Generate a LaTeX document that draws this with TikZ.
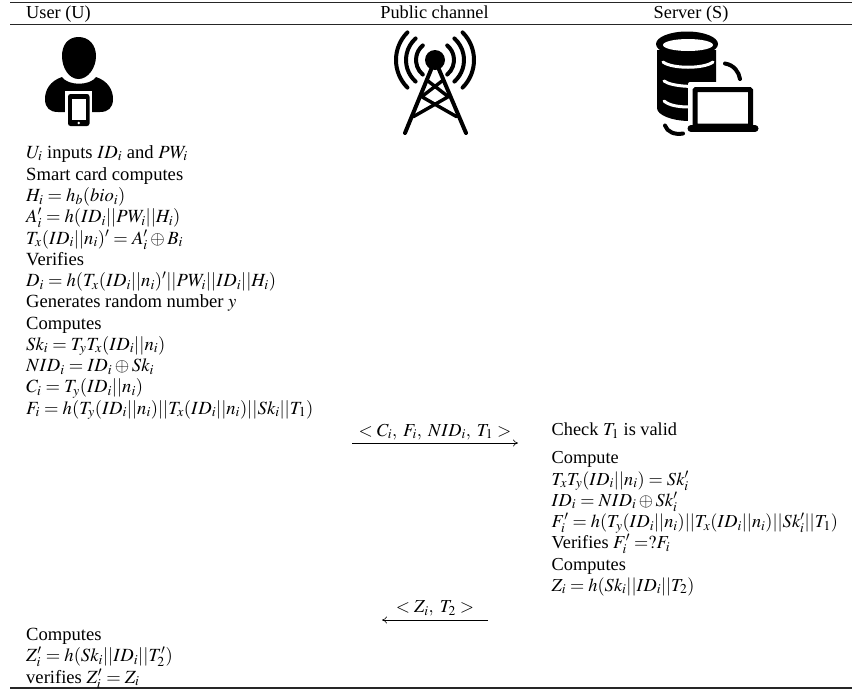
\documentclass[tikz,border=0pt]{standalone}
\usepackage{fontspec}
\usepackage{mathptmx}
\setmainfont{Liberation Serif}
\usetikzlibrary{arrows.meta}
\tikzset{
  txt/.style={anchor=base west,inner sep=0pt,font=\fontsize{18.6}{20}\selectfont},
  srv/.style={anchor=base west,inner sep=0pt,font=\fontsize{18.3}{20}\selectfont},
  ctr/.style={anchor=base,inner sep=0pt,font=\fontsize{18.3}{20}\selectfont},
  rulethick/.style={line width=1.3pt,draw=black!85},
  msg/.style={line width=0.6pt,-{To[length=5pt,width=7pt]}},
  ico/.style={line width=4pt,line cap=round,black},
  stripe/.style={white,line width=3pt,line cap=round}
}
\begin{document}
\begin{tikzpicture}[x=1pt,y=-1pt]
\useasboundingbox (0,0) rectangle (852,691);
\coordinate (t1) at (10,2.5); \coordinate (t2) at (852,2.5);
\coordinate (h1) at (10,24.5); \coordinate (h2) at (852,24.5);
\coordinate (b1) at (10,688); \coordinate (b2) at (852,688);
\draw[rulethick] (t1)--(t2); \draw[rulethick] (h1)--(h2); \draw[rulethick] (b1)--(b2);
\node[srv] (hu) at (26,18) {User (U)};
\node[ctr] (hp) at (434.5,18) {Public channel};
\node[srv] (hs) at (653.5,18) {Server (S)};
% user icon
\fill (78.5,37) .. controls (89,37) and (96,45) .. (96,56) .. controls (96,68) and (88,79) .. (78.5,79) .. controls (69,79) and (62,68) .. (62,56) .. controls (62,45) and (68,37) .. (78.5,37) -- cycle;
\fill (62,77) .. controls (50,81) and (45,90) .. (45,99) .. controls (45,108) and (50,112) .. (58,112) -- (100,112) .. controls (108,112) and (113,108) .. (113,99) .. controls (113,90) and (108,81) .. (96,77) .. controls (90,86) and (68,86) .. (62,77) -- cycle;
\fill[white] (65,91) rectangle (92,128);
\fill[rounded corners=2.5pt] (68,94) rectangle (89.5,126);
\fill[white] (72,99) rectangle (86,120);
\fill[white] (78.8,123) circle (1.4);
% tower
\begin{scope}[ico]
 \coordinate (tc) at (435,60);
 \fill (tc) circle (10);
 \draw (tc)+(130:19) arc (130:230:19);
 \draw (tc)+(132:29) arc (132:228:29);
 \draw (tc)+(135:39) arc (135:225:39);
 \draw (tc)+(50:19) arc (50:-50:19);
 \draw (tc)+(48:29) arc (48:-48:29);
 \draw (tc)+(45:39) arc (45:-45:39);
 \coordinate (fl) at (405,133); \coordinate (fr) at (466,133);
 \draw (tc)--(fl); \draw (tc)--(fr);
 \draw[line width=3.4pt] (426.7,80)--(448.3,96.7)--(413.3,116.7);
 \draw[line width=3.4pt] (443.3,80)--(421.7,96.7)--(456.7,116.7);
\end{scope}
% server icon
\begin{scope}
 \fill (657,50) -- (657,108) .. controls (657,115) and (672,121) .. (690,121) -- (716,100) -- (716,50) -- cycle;
 \fill (687,44) ellipse (31 and 12.5);
 \fill[white] (688,45) ellipse (25 and 6);
 \fill[white] (655,59) circle (1.6) (719,59) circle (1.6) (655,79.5) circle (1.6) (655,100) circle (1.6);
 \draw[stripe] (663,62) .. controls (672,69) and (704,69) .. (713,62);
 \draw[stripe] (664,81) .. controls (672,87) and (700,88) .. (713,84);
 \draw[stripe] (664,101) .. controls (670,106) and (680,107) .. (690,107);
 \fill[white,rounded corners=2pt] (688,82) rectangle (760,134);
 \draw[line width=4pt,line cap=round] (725,63.5) .. controls (734,65) and (739,72) .. (740,79);
 \draw[line width=4pt,line cap=round] (665,125.5) .. controls (667,132) and (675,135) .. (683,133.5);
 \draw[line width=5pt,rounded corners=1pt] (695,89.5) rectangle (750.5,126);
 \draw[line width=7pt,line cap=round] (691,128.5) -- (755,128.5);
\end{scope}
% user text
\node[txt] (u1) at (26,158) {$U_i$ inputs $ID_i$ and $PW_i$};
\node[txt] (u2) at (26,180) {Smart card computes};
\node[txt] (u3) at (26,201.5) {$H_i=h_b(bio_i)$};
\node[txt] (u4) at (26,222.5) {$A_i'=h(ID_i||PW_i||H_i)$};
\node[txt] (u5) at (26,244) {$T_x(ID_i||n_i)'=A_i'\oplus B_i$};
\node[txt] (u6) at (26,265) {Verifies};
\node[txt] (u7) at (26,286.5) {$D_i=h(T_x(ID_i||n_i)'||PW_i||ID_i||H_i)$};
\node[txt] (u8) at (26,307.5) {Generates random number $y$};
\node[txt] (u9) at (26,329) {Computes};
\node[txt] (u10) at (26,350) {$Sk_i=T_yT_x(ID_i||n_i)$};
\node[txt] (u11) at (26,371.5) {$NID_i=ID_i\oplus Sk_i$};
\node[txt] (u12) at (26,392.5) {$C_i=T_y(ID_i||n_i)$};
\node[txt] (u13) at (26,414) {$F_i=h(T_y(ID_i||n_i)||T_x(ID_i||n_i)||Sk_i||T_1)$};
% messages
\coordinate (m1a) at (352,443); \coordinate (m1b) at (518,443);
\draw[msg] (m1a)--(m1b);
\node[ctr] (m1) at (435,436) {$<C_i,\;F_i,\;NID_i,\;T_1>$};
\coordinate (m2a) at (488,620); \coordinate (m2b) at (382,620);
\draw[msg] (m2a)--(m2b);
\node[ctr] (m2) at (435,612.5) {$<Z_i,\;T_2>$};
% server text
\node[srv] (s1) at (551.5,435.5) {Check $T_1$ is valid};
\node[srv] (s2) at (551.5,463.5) {Compute};
\node[srv] (s3) at (551.5,485) {$T_xT_y(ID_i||n_i)=Sk_i'$};
\node[srv] (s4) at (551.5,506) {$ID_i=NID_i\oplus Sk_i'$};
\node[srv] (s5) at (551.5,527.5) {$F_i'=h(T_y(ID_i||n_i)||T_x(ID_i||n_i)||Sk_i'||T_1)$};
\node[srv] (s6) at (551.5,548.5) {Verifies $F_i'=?F_i$};
\node[srv] (s7) at (551.5,570) {Computes};
\node[srv] (s8) at (551.5,591) {$Z_i=h(Sk_i||ID_i||T_2)$};
% bottom
\node[txt] (c1) at (26,640) {Computes};
\node[txt] (c2) at (26,661.5) {$Z_i'=h(Sk_i||ID_i||T_2')$};
\node[txt] (c3) at (26,683) {verifies $Z_i'=Z_i$};
\end{tikzpicture}
\end{document}
